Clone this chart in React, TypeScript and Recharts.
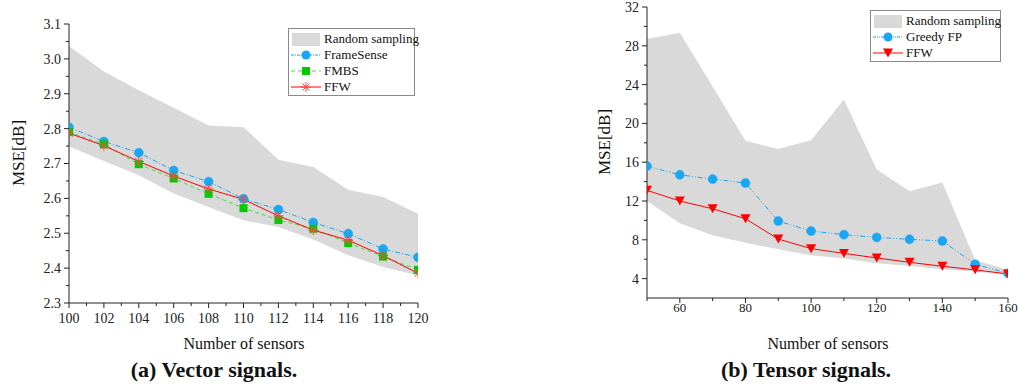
import React from 'react';
import { ComposedChart, Area, Line, XAxis, YAxis } from 'recharts';

// ---------- Data: (a) Vector signals ----------
const vecSensors = [100, 102, 104, 106, 108, 110, 112, 114, 116, 118, 120];
const vecRandomHigh = [3.037, 2.964, 2.91, 2.86, 2.809, 2.804, 2.711, 2.69, 2.625, 2.604, 2.556];
const vecRandomLow = [2.749, 2.707, 2.666, 2.614, 2.575, 2.537, 2.518, 2.482, 2.437, 2.403, 2.379];
const vecFrameSense = [2.804, 2.763, 2.731, 2.68, 2.648, 2.599, 2.568, 2.531, 2.499, 2.455, 2.431];
const vecFMBS = [2.79, 2.755, 2.698, 2.657, 2.613, 2.572, 2.538, 2.513, 2.472, 2.433, 2.395];
const vecFFW = [2.787, 2.751, 2.706, 2.664, 2.627, 2.597, 2.55, 2.509, 2.48, 2.436, 2.385];
const vecXMajor = [100, 102, 104, 106, 108, 110, 112, 114, 116, 118, 120];
const vecXMinor = [101, 103, 105, 107, 109, 111, 113, 115, 117, 119];
const vecYMajor = [2.3, 2.4, 2.5, 2.6, 2.7, 2.8, 2.9, 3.0, 3.1];
const vecYMinor = [2.35, 2.45, 2.55, 2.65, 2.75, 2.85, 2.95, 3.05];
const vecYLabels = ['2.3', '2.4', '2.5', '2.6', '2.7', '2.8', '2.9', '3.0', '3.1'];

// ---------- Data: (b) Tensor signals ----------
const tenSensors = [50, 60, 70, 80, 90, 100, 110, 120, 130, 140, 150, 160];
const tenRandomHigh = [28.7, 29.35, 23.8, 18.2, 17.35, 18.27, 22.46, 15.25, 13.0, 13.9, 5.9, 4.9];
const tenRandomLow = [12.0, 9.7, 8.46, 7.7, 7.02, 6.4, 6.06, 5.58, 5.3, 4.96, 4.72, 4.35];
const tenGreedyFP = [15.6, 14.7, 14.26, 13.85, 9.93, 8.9, 8.53, 8.25, 8.05, 7.88, 5.48, 4.55];
const tenFFW = [13.1, 12.0, 11.2, 10.17, 8.08, 7.09, 6.6, 6.13, 5.68, 5.27, 4.9, 4.48];
const tenXMajor = [60, 80, 100, 120, 140, 160];
const tenXMinor = [50, 70, 90, 110, 130, 150];
const tenYMajor = [4, 8, 12, 16, 20, 24, 28, 32];
const tenYMinor = [6, 10, 14, 18, 22, 26, 30];

const vecData = vecSensors.map((s, i) => ({
  x: s,
  band: [vecRandomLow[i], vecRandomHigh[i]],
  fs: vecFrameSense[i],
  fmbs: vecFMBS[i],
  ffw: vecFFW[i],
}));

const tenData = tenSensors.map((s, i) => ({
  x: s,
  band: [tenRandomLow[i], tenRandomHigh[i]],
  gfp: tenGreedyFP[i],
  ffw: tenFFW[i],
}));

const FONT = 'Liberation Serif, Times New Roman, serif';
const BLUE = '#19a6f2';
const GREEN = '#00cc00';
const RED = '#ff0000';
const BAND = '#d9d9d9';
const AXIS = '#222';

const near = (a: number, b: number) => Math.abs(a - b) < 1e-6;

function makeYTick(major: number[], labels: string[] | null, fontSize: number) {
  return (props: any) => {
    const { x, y, payload } = props;
    const v = payload.value;
    const idx = major.findIndex((m) => near(m, v));
    const isMajor = idx >= 0;
    return (
      <g>
        <line x1={x} x2={x - (isMajor ? 5 : 3)} y1={y} y2={y} stroke={AXIS} strokeWidth={1} />
        {isMajor && (
          <text x={x - 8} y={y} dy="0.35em" textAnchor="end" style={{ fontFamily: FONT, fontSize }} fill="#222">
            {labels ? labels[idx] : String(v)}
          </text>
        )}
      </g>
    );
  };
}

function makeXTick(major: number[], fontSize: number, labelGap: number) {
  return (props: any) => {
    const { x, y, payload } = props;
    const v = payload.value;
    const isMajor = major.some((m) => near(m, v));
    return (
      <g>
        <line x1={x} x2={x} y1={y} y2={y + (isMajor ? 5 : 3)} stroke={AXIS} strokeWidth={1} />
        {isMajor && (
          <text x={x} y={y + labelGap} dy="0.35em" textAnchor="middle" style={{ fontFamily: FONT, fontSize }} fill="#222">
            {String(v)}
          </text>
        )}
      </g>
    );
  };
}

const CircleDot = (color: string, r: number) => (props: any) => {
  const { cx, cy, index } = props;
  if (cx == null || cy == null) return <g key={index} />;
  return <circle key={index} cx={cx} cy={cy} r={r} fill={color} stroke={color} strokeWidth={0.5} />;
};

const SquareDot = (color: string, s: number) => (props: any) => {
  const { cx, cy, index } = props;
  if (cx == null || cy == null) return <g key={index} />;
  return <rect key={index} x={cx - s / 2} y={cy - s / 2} width={s} height={s} fill={color} />;
};

const StarDot = (color: string, r: number) => (props: any) => {
  const { cx, cy, index } = props;
  if (cx == null || cy == null) return <g key={index} />;
  const d = r * 0.7;
  return (
    <g key={index} stroke={color} strokeWidth={1}>
      <line x1={cx - r} x2={cx + r} y1={cy} y2={cy} />
      <line x1={cx} x2={cx} y1={cy - r} y2={cy + r} />
      <line x1={cx - d} x2={cx + d} y1={cy - d} y2={cy + d} />
      <line x1={cx - d} x2={cx + d} y1={cy + d} y2={cy - d} />
    </g>
  );
};

const TriDot = (color: string, s: number) => (props: any) => {
  const { cx, cy, index } = props;
  if (cx == null || cy == null) return <g key={index} />;
  const h = s * 0.9;
  return (
    <polygon
      key={index}
      points={`${cx - s / 2},${cy - h / 2} ${cx + s / 2},${cy - h / 2} ${cx},${cy + h / 2}`}
      fill={color}
    />
  );
};

type LegendItem = { label: string; kind: 'band' | 'circle' | 'square' | 'star' | 'tri'; color?: string; lineColor?: string; dash?: string };

function LegendBox({ left, top, width, items }: { left: number; top: number; width: number; items: LegendItem[] }) {
  const rowH = 16;
  return (
    <div
      style={{
        position: 'absolute',
        left,
        top,
        width,
        height: items.length * rowH + 4,
        border: '1px solid #8a8a8a',
        background: '#fff',
        boxSizing: 'border-box',
      }}
    >
      {items.map((it, i) => (
        <div key={i} style={{ position: 'absolute', left: 2, top: 2 + i * rowH, height: rowH, display: 'flex', alignItems: 'center' }}>
          <svg width={30} height={rowH} style={{ display: 'block' }}>
            {it.kind === 'band' ? (
              <rect x={1} y={2} width={28} height={rowH - 3} fill={BAND} />
            ) : (
              <g>
                <line x1={0} x2={30} y1={rowH / 2} y2={rowH / 2} stroke={it.lineColor} strokeWidth={1} strokeDasharray={it.dash} />
                {it.kind === 'circle' && <circle cx={15} cy={rowH / 2} r={4.5} fill={it.color} />}
                {it.kind === 'square' && <rect x={11} y={rowH / 2 - 4} width={8} height={8} fill={it.color} />}
                {it.kind === 'star' && StarDot(it.color as string, 5)({ cx: 15, cy: rowH / 2, index: 0 })}
                {it.kind === 'tri' && TriDot(it.color as string, 10)({ cx: 15, cy: rowH / 2, index: 0 })}
              </g>
            )}
          </svg>
          <span style={{ fontFamily: FONT, fontSize: 13, color: '#111', marginLeft: 3, whiteSpace: 'nowrap', lineHeight: '16px' }}>{it.label}</span>
        </div>
      ))}
    </div>
  );
}

const textStyle: React.CSSProperties = { position: 'absolute', fontFamily: FONT, color: '#111', whiteSpace: 'nowrap', lineHeight: 1 };

export default function App() {
  return (
    <div style={{ position: 'fixed', left: 0, top: 0, width: 1018, height: 389, background: '#fff', overflow: 'hidden', fontFamily: FONT }}>
      {/* (a) Vector signals */}
      <div style={{ position: 'absolute', left: 0, top: 0 }}>
        <ComposedChart width={430} height={340} data={vecData} margin={{ top: 24, right: 12, bottom: 7, left: 29 }}>
          <XAxis
            dataKey="x"
            type="number"
            domain={[100, 120]}
            ticks={[...vecXMajor, ...vecXMinor].sort((a, b) => a - b)}
            interval={0}
            tickSize={0}
            tickMargin={0}
            tickLine={false}
            height={30}
            stroke={AXIS}
            tick={makeXTick(vecXMajor, 14, 15)}
            allowDataOverflow
          />
          <YAxis
            type="number"
            domain={[2.3, 3.1]}
            ticks={[...vecYMajor, ...vecYMinor].sort((a, b) => a - b)}
            interval={0}
            tickSize={0}
            tickMargin={0}
            tickLine={false}
            width={40}
            stroke={AXIS}
            tick={makeYTick(vecYMajor, vecYLabels, 14)}
            allowDataOverflow
          />
          <Area dataKey="band" stroke="none" fill={BAND} fillOpacity={1} isAnimationActive={false} />
          <Line dataKey="fs" stroke={BLUE} strokeWidth={1} strokeDasharray="5 2 1 2" dot={CircleDot(BLUE, 4.5)} isAnimationActive={false} />
          <Line dataKey="fmbs" stroke="#44dd44" strokeWidth={1} strokeDasharray="4 3" dot={SquareDot(GREEN, 8)} isAnimationActive={false} />
          <Line dataKey="ffw" stroke={RED} strokeWidth={1} dot={StarDot('#ff4444', 5)} isAnimationActive={false} />
        </ComposedChart>
      </div>
      <LegendBox
        left={288}
        top={28}
        width={127}
        items={[
          { label: 'Random sampling', kind: 'band' },
          { label: 'FrameSense', kind: 'circle', color: BLUE, lineColor: BLUE, dash: '3 1 1 1' },
          { label: 'FMBS', kind: 'square', color: GREEN, lineColor: '#44dd44', dash: '4 3' },
          { label: 'FFW', kind: 'star', color: '#ff4444', lineColor: RED },
        ]}
      />
      <div style={{ ...textStyle, left: 18, top: 153, fontSize: 17, transform: 'translate(-50%, -50%) rotate(-90deg)' }}>MSE[dB]</div>
      <div style={{ ...textStyle, left: 244, top: 344, fontSize: 16, transform: 'translate(-50%, -50%)' }}>Number of sensors</div>
      <div style={{ ...textStyle, left: 214, top: 370, fontSize: 22, fontWeight: 'bold', transform: 'translate(-50%, -50%)' }}>(a) Vector signals.</div>

      {/* (b) Tensor signals */}
      <div style={{ position: 'absolute', left: 560, top: 0 }}>
        <ComposedChart width={460} height={335} data={tenData} margin={{ top: 7, right: 12, bottom: 7, left: 47 }}>
          <XAxis
            dataKey="x"
            type="number"
            domain={[50, 160]}
            ticks={[...tenXMajor, ...tenXMinor].sort((a, b) => a - b)}
            interval={0}
            tickSize={0}
            tickMargin={0}
            tickLine={false}
            height={30}
            stroke={AXIS}
            tick={makeXTick(tenXMajor, 13, 9)}
            allowDataOverflow
          />
          <YAxis
            type="number"
            domain={[2, 32]}
            ticks={[...tenYMajor, ...tenYMinor].sort((a, b) => a - b)}
            interval={0}
            tickSize={0}
            tickMargin={0}
            tickLine={false}
            width={40}
            stroke={AXIS}
            tick={makeYTick(tenYMajor, null, 14)}
            allowDataOverflow
          />
          <Area dataKey="band" stroke="none" fill={BAND} fillOpacity={1} isAnimationActive={false} />
          <Line dataKey="gfp" stroke={BLUE} strokeWidth={1} strokeDasharray="5 2 1 2 1 2" dot={CircleDot(BLUE, 4.5)} isAnimationActive={false} />
          <Line dataKey="ffw" stroke={RED} strokeWidth={1} dot={TriDot(RED, 10)} isAnimationActive={false} />
        </ComposedChart>
      </div>
      <LegendBox
        left={870}
        top={10}
        width={131}
        items={[
          { label: 'Random sampling', kind: 'band' },
          { label: 'Greedy FP', kind: 'circle', color: BLUE, lineColor: BLUE, dash: '3 1 1 1 1 1' },
          { label: 'FFW', kind: 'tri', color: RED, lineColor: RED },
        ]}
      />
      <div style={{ ...textStyle, left: 604, top: 142, fontSize: 17, transform: 'translate(-50%, -50%) rotate(-90deg)' }}>MSE[dB]</div>
      <div style={{ ...textStyle, left: 828, top: 344, fontSize: 16, transform: 'translate(-50%, -50%)' }}>Number of sensors</div>
      <div style={{ ...textStyle, left: 806, top: 370, fontSize: 22, fontWeight: 'bold', transform: 'translate(-50%, -50%)' }}>(b) Tensor signals.</div>
    </div>
  );
}
